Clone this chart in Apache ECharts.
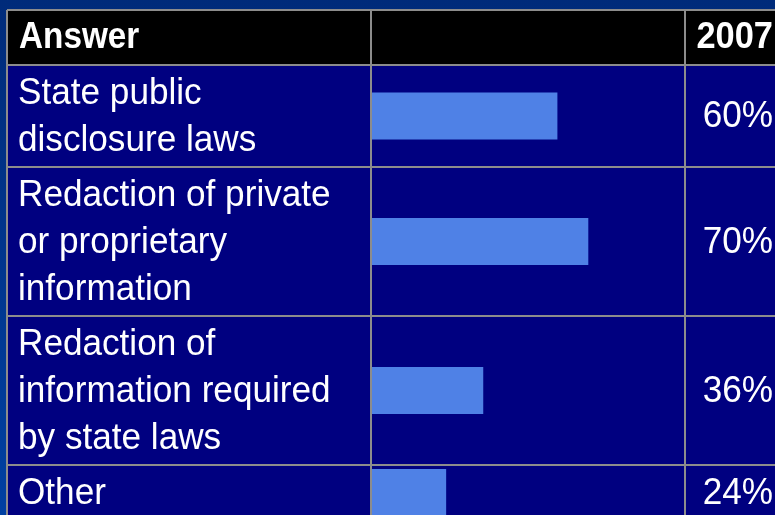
<!DOCTYPE html>
<html>
<head>
<meta charset="utf-8">
<title>Answer 2007</title>
<script src="https://cdn.jsdelivr.net/npm/echarts@6/dist/echarts.min.js"></script>
<style>
  html, body { margin: 0; padding: 0; background: #002f82; }
  #chart { width: 775px; height: 515px; }
</style>
</head>
<body>
<div id="chart"></div>
<script>
// Survey answers (row labels, with their line breaks) and the 2007 share for each
const answers = [
  'State public\ndisclosure laws',
  'Redaction of private\nor proprietary\ninformation',
  'Redaction of\ninformation required\nby state laws',
  'Other'
];
const share2007 = [60, 70, 36, 24];
const headerAnswer = 'Answer';
const headerYear = '2007';

// Table geometry
const TABLE_LEFT = 7;
const TABLE_TOP = 10;
const HEADER_BOTTOM = 65;
const COL_BAR = 371;
const COL_VALUE = 685;
const TABLE_RIGHT = 800;
const LINE_H = 47;
const ROW_PAD = 4;
const BAR_H = 47;
const FONT = '"Liberation Sans", Arial, sans-serif';
const GRID_COLOR = '#8c8c8c';
const CELL_COLOR = '#000080';
const BAR_COLOR = '#4f81e6';
const TEXT_SQUEEZE = 0.95;   // slightly condensed lettering

// Row heights follow the number of text lines in each answer
const rows = [];
let y = HEADER_BOTTOM;
answers.forEach(function (a) {
  const n = a.split('\n').length;
  const h = n * LINE_H + ROW_PAD * 2;
  rows.push({ top: y, bottom: y + h, center: y + h / 2 });
  y += h;
});
const TABLE_BOTTOM = y;

const graphics = [];
// page background
graphics.push({
  type: 'rect', z: 0,
  shape: { x: 0, y: 0, width: 775, height: 515 },
  style: {
    fill: new echarts.graphic.LinearGradient(0, 0, 0, 1, [
      { offset: 0, color: '#002b7a' },
      { offset: 1, color: '#0040a2' }
    ])
  }
});
// header band and body
graphics.push({
  type: 'rect', z: 1,
  shape: { x: TABLE_LEFT, y: TABLE_TOP, width: TABLE_RIGHT - TABLE_LEFT, height: HEADER_BOTTOM - TABLE_TOP },
  style: { fill: '#000000' }
});
graphics.push({
  type: 'rect', z: 1,
  shape: { x: TABLE_LEFT, y: HEADER_BOTTOM, width: TABLE_RIGHT - TABLE_LEFT, height: TABLE_BOTTOM - HEADER_BOTTOM },
  style: { fill: CELL_COLOR }
});
// grid lines
function hLine(yy) {
  graphics.push({
    type: 'line', z: 10,
    shape: { x1: TABLE_LEFT, y1: yy, x2: TABLE_RIGHT, y2: yy },
    style: { stroke: GRID_COLOR, lineWidth: 2 }
  });
}
function vLine(xx) {
  graphics.push({
    type: 'line', z: 10,
    shape: { x1: xx, y1: TABLE_TOP, x2: xx, y2: TABLE_BOTTOM },
    style: { stroke: GRID_COLOR, lineWidth: 2 }
  });
}
hLine(TABLE_TOP);
hLine(HEADER_BOTTOM);
rows.forEach(function (r) { hLine(r.bottom); });
vLine(TABLE_LEFT);
vLine(COL_BAR);
vLine(COL_VALUE);

// header texts
graphics.push({
  type: 'text', z: 12,
  x: 19, y: (TABLE_TOP + HEADER_BOTTOM) / 2, scaleX: 0.9,
  style: {
    text: headerAnswer, x: 0, y: 0,
    fill: '#ffffff', font: 'bold 37px ' + FONT, verticalAlign: 'middle', align: 'left'
  }
});
graphics.push({
  type: 'text', z: 12,
  x: 773, y: (TABLE_TOP + HEADER_BOTTOM) / 2, scaleX: 0.93,
  style: {
    text: headerYear, x: 0, y: 0,
    fill: '#ffffff', font: 'bold 37px ' + FONT, verticalAlign: 'middle', align: 'right'
  }
});
// answer texts
answers.forEach(function (a, i) {
  graphics.push({
    type: 'text', z: 12,
    x: 18, y: rows[i].top + ROW_PAD + 1, scaleX: TEXT_SQUEEZE,
    style: {
      text: a, x: 0, y: 0,
      fill: '#ffffff', font: '37px ' + FONT, lineHeight: LINE_H,
      verticalAlign: 'top', align: 'left'
    }
  });
});

const chart = echarts.init(document.getElementById('chart'), null, { renderer: 'canvas' });
chart.setOption({
  animation: false,
  graphic: { elements: graphics },
  grid: { left: COL_BAR + 1, top: HEADER_BOTTOM, width: 309, height: TABLE_BOTTOM - HEADER_BOTTOM },
  xAxis: { type: 'value', min: 0, max: 100, show: false },
  yAxis: { type: 'value', min: 0, max: answers.length, show: false, inverse: true },
  series: [{
    type: 'custom',
    z: 5,
    data: share2007.map(function (v, i) { return [v, i]; }),
    renderItem: function (params, api) {
      const v = api.value(0);
      const i = api.value(1);
      const start = api.coord([0, i]);
      const end = api.coord([v, i]);
      const cy = rows[i].center;
      return {
        type: 'group',
        children: [
          {
            type: 'rect',
            shape: { x: start[0], y: cy - BAR_H / 2, width: end[0] - start[0], height: BAR_H },
            style: { fill: BAR_COLOR }
          },
          {
            type: 'text',
            x: 773, y: cy + 1, scaleX: TEXT_SQUEEZE,
            style: {
              text: v + '%', x: 0, y: 0,
              fill: '#ffffff', font: '37px ' + FONT,
              align: 'right', verticalAlign: 'middle'
            }
          }
        ]
      };
    }
  }]
});
</script>
</body>
</html>
